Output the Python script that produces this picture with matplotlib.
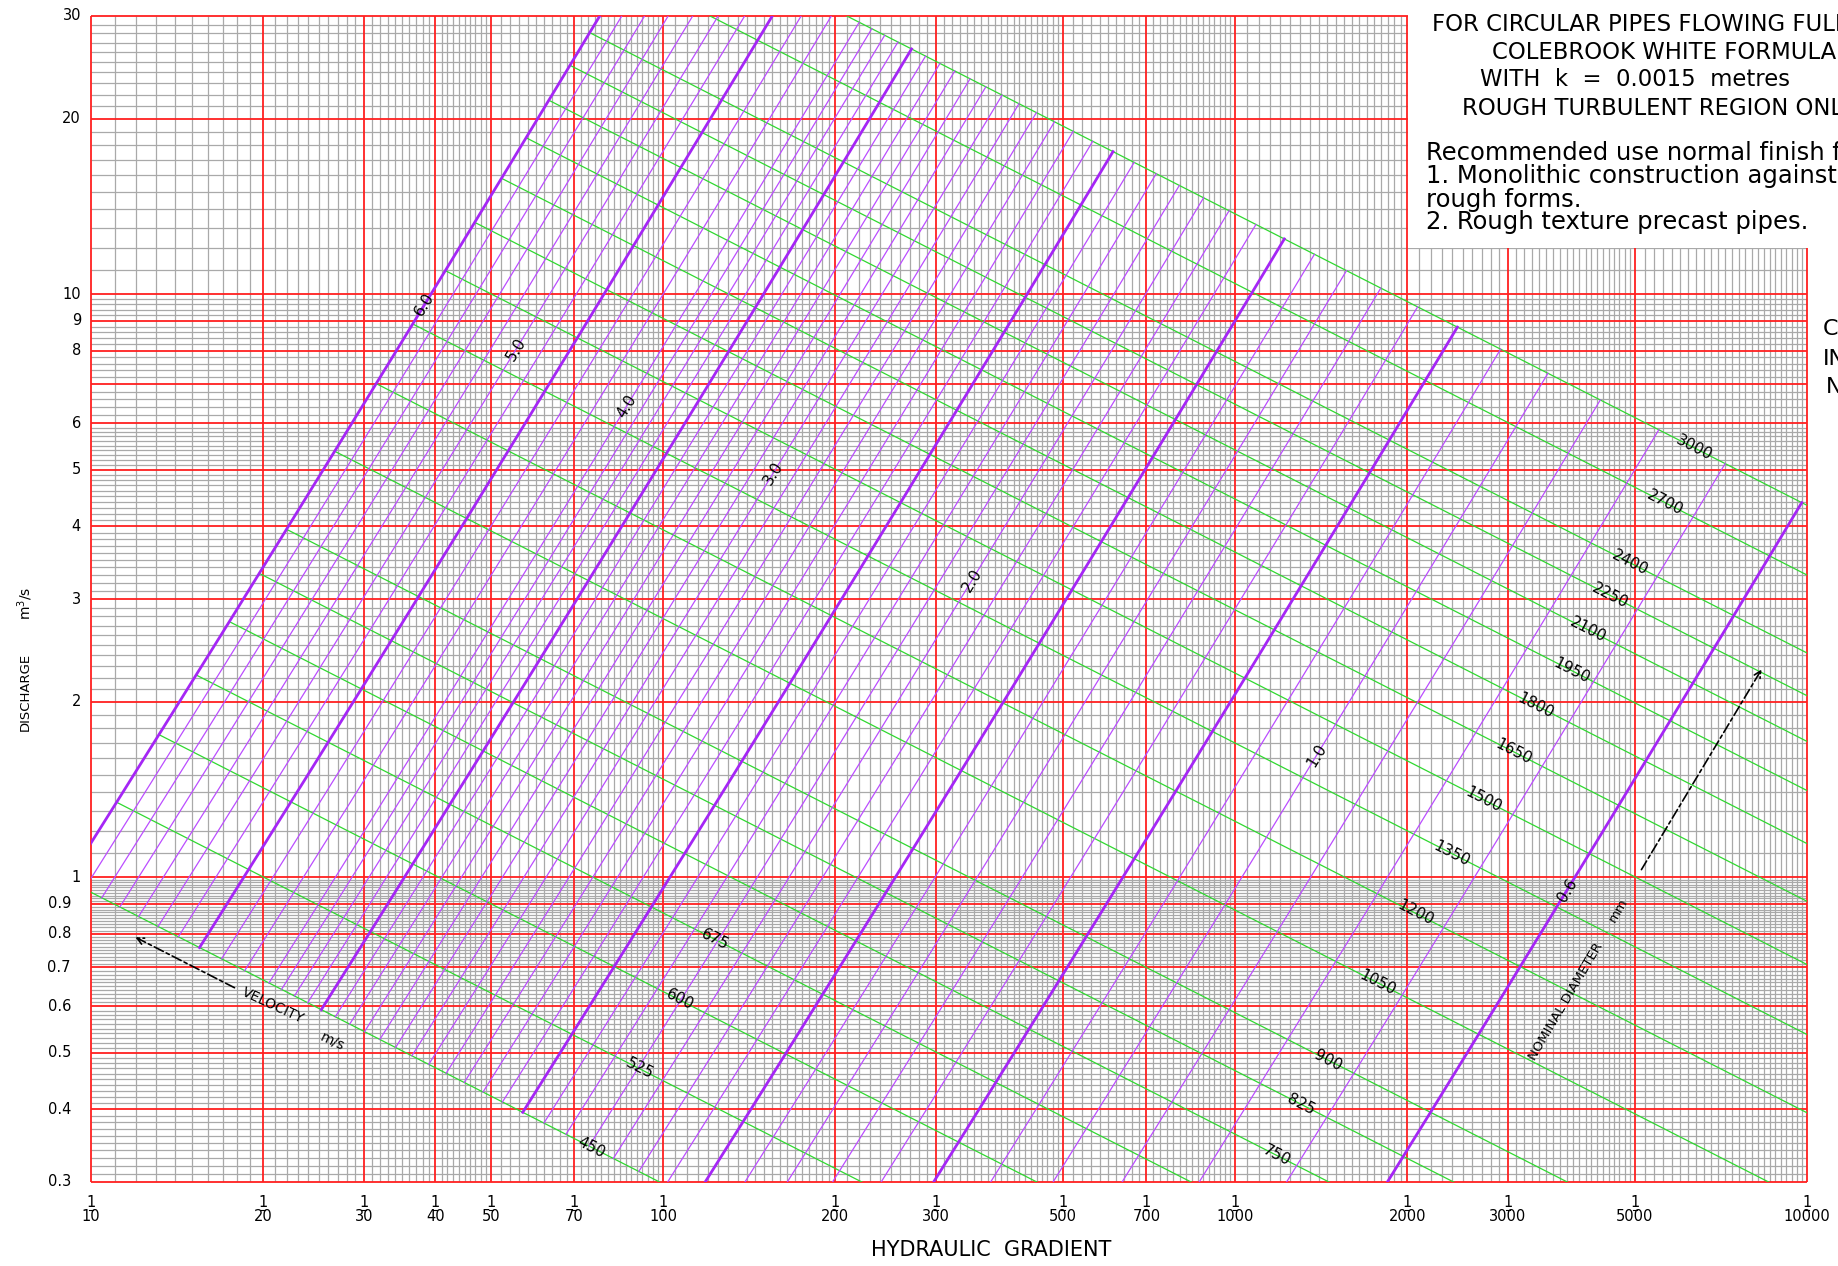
import numpy as np
import matplotlib.pyplot as plt
from matplotlib.patches import Rectangle

W, H = 1838, 1266

# Colebrook-White, rough turbulent region only
k = 0.0015      # roughness, metres
g = 9.81
q_scale = 1.035  # the printed chart sits a little above the plain formula

diameters_mm = [450, 525, 600, 675, 750, 825, 900, 1050, 1200, 1350, 1500,
                1650, 1800, 1950, 2100, 2250, 2400, 2700, 3000]
velocities = [0.6, 0.7, 0.8, 0.9, 1.0, 1.1, 1.2, 1.3, 1.4, 1.5, 1.6, 1.7, 1.8, 1.9,
              2.0, 2.1, 2.2, 2.3, 2.4, 2.5, 2.6, 2.7, 2.8, 2.9,
              3.0, 3.1, 3.2, 3.3, 3.4, 3.5, 3.6, 3.7, 3.8, 3.9,
              4.0, 4.2, 4.4, 4.6, 4.8, 5.0, 5.2, 5.4, 5.6, 5.8, 6.0]
bold_velocities = [0.6, 1.2, 1.7, 2.4, 3.6, 4.6, 6.0]

labelled_velocities = [6.0, 5.0, 4.0, 3.0, 2.0, 1.0, 0.6]
velocity_label_q = [9.6, 8.05, 6.43, 4.93, 3.23, 1.62, 0.95]
diameter_label_x = [75, 91, 107, 123, 1183, 1303, 1455, 1778, 2064, 2395, 2715,
                    3065, 3357, 3880, 4140, 4530, 4900, 5650, 6350]

gradient_ticks = [10, 20, 30, 40, 50, 70, 100, 200, 300, 500, 700, 1000,
                  2000, 3000, 5000, 10000]
discharge_ticks = [30, 20, 10, 9, 8, 6, 5, 4, 3, 2, 1, 0.9, 0.8, 0.7, 0.6, 0.5, 0.4, 0.3]
discharge_major = [0.3, 0.4, 0.5, 0.6, 0.7, 0.8, 0.9, 1, 2, 3, 4, 5, 6, 7, 8, 9, 10, 20, 30]


def flow_velocity(D, S):
    return 2 * np.sqrt(2 * g * D * S) * np.log10(3.7 * D / k)


def slope_for(D, V):
    return (V / (2 * np.log10(3.7 * D / k))) ** 2 / (2 * g * D)


def fxy(x, y):
    return x / W, 1 - y / H


fig = plt.figure(figsize=(W / 100, H / 100), dpi=100)
ax = fig.add_axes([91 / W, 1 - 1182 / H, 1716 / W, 1166 / H])
ax.set_xscale('log')
ax.set_yscale('log')
ax.set_xlim(10, 10000)
ax.set_ylim(0.3, 30)
ax.tick_params(which='both', length=0, labelbottom=False, labelleft=False)
for s in ax.spines.values():
    s.set_visible(False)

# graph paper
minor_x = np.concatenate([np.arange(11, 50, 1), np.arange(52, 100, 2),
                          np.arange(105, 200, 5), np.arange(210, 500, 10),
                          np.arange(520, 1000, 20), np.arange(1050, 2000, 50),
                          np.arange(2100, 5000, 100), np.arange(5200, 10000, 200)])
minor_x = [v for v in minor_x if v not in gradient_ticks]
minor_y = np.concatenate([np.arange(0.31, 1.0, 0.01), np.arange(1.1, 6.0, 0.1),
                          np.arange(6.2, 10.0, 0.2), np.arange(11, 30, 1)])
minor_y = [v for v in minor_y if not np.any(np.isclose(v, discharge_major))]

ax.vlines(minor_x, 0.3, 30, colors='#a9a9a9', lw=0.9, zorder=1)
ax.hlines(minor_y, 10, 10000, colors='#a9a9a9', lw=0.9, zorder=1)
ax.vlines(gradient_ticks, 0.3, 30, colors='#ff2020', lw=1.3, zorder=1.2, clip_on=False)
ax.hlines(discharge_major, 10, 10000, colors='#ff2020', lw=1.3, zorder=1.2, clip_on=False)

# blank area for the title block
ax.add_patch(Rectangle((2000 * 1.004, 12), 30000, 40, facecolor='white',
                       edgecolor='none', zorder=2, clip_on=False))

# velocity lines
Dr = np.geomspace(0.45, 3.0, 400)
for v in velocities:
    xs = 1 / slope_for(Dr, v)
    qs = q_scale * v * np.pi * Dr ** 2 / 4
    if v in bold_velocities:
        ax.plot(xs, qs, color='#a526f5', lw=2.0, zorder=3.2)
    else:
        ax.plot(xs, qs, color='#bb4dff', lw=0.9, zorder=3.2)

# diameter lines
for d in diameters_mm:
    D = d / 1000
    x0 = max(10, 1 / slope_for(D, 6.0))
    xs = np.geomspace(x0, 10000, 60)
    qs = q_scale * flow_velocity(D, 1 / xs) * np.pi * D ** 2 / 4
    ax.plot(xs, qs, color='#30d830', lw=0.9, zorder=3)


def angle_of(p, q):
    a = ax.transData.transform(p)
    b = ax.transData.transform(q)
    return np.degrees(np.arctan2(b[1] - a[1], b[0] - a[0]))


for d, xl in zip(diameters_mm, diameter_label_x):
    D = d / 1000
    A = q_scale * np.pi * D ** 2 / 4
    q1 = flow_velocity(D, 1 / xl) * A
    q2 = flow_velocity(D, 1 / (xl * 1.1)) * A
    ang = angle_of((xl, q1), (xl * 1.1, q2))
    ax.text(xl, q1, str(d), rotation=ang, rotation_mode='anchor', ha='center',
            va='center', fontsize=11, zorder=5)

for v, ql in zip(labelled_velocities, velocity_label_q):
    D = np.sqrt(4 * ql / q_scale / (np.pi * v))
    x1 = 1 / slope_for(D, v)
    x2 = 1 / slope_for(D * 1.02, v)
    q2 = q_scale * v * np.pi * (D * 1.02) ** 2 / 4
    ang = angle_of((x1, ql), (x2, q2))
    ax.text(x1, ql, '%.1f' % v, rotation=ang, rotation_mode='anchor', ha='center',
            va='center', fontsize=11, zorder=5)

# axis tick labels
xt = ax.get_xaxis_transform()
for xv in gradient_ticks:
    ax.text(xv, -0.0172, '1', transform=xt, ha='center', va='center', fontsize=10.5)
    ax.text(xv, -0.0300, str(xv), transform=xt, ha='center', va='center', fontsize=10.5)
    ax.plot([xv / 1.008, xv * 1.008], [-0.0236, -0.0236], transform=xt, color='black',
            lw=0.8, clip_on=False)

yt = ax.get_yaxis_transform()
for yv in discharge_ticks:
    if yv >= 1:
        ax.text(-0.0058, yv, '%d' % yv, transform=yt, ha='right', va='center', fontsize=10.5)
    else:
        ax.text(-0.0117, yv, '%.1f' % yv, transform=yt, ha='right', va='center', fontsize=10.5)

fig.text(*fxy(991, 1250), 'HYDRAULIC  GRADIENT', ha='center', va='center', fontsize=15)
fig.text(*fxy(25, 692), 'DISCHARGE', rotation=90, ha='center', va='center', fontsize=9.5)
fig.text(*fxy(25, 603), 'm$^{3}$/s', rotation=90, ha='center', va='center', fontsize=10)

# arrows and axis notes
ax.annotate('', xy=fxy(133, 936), xytext=fxy(237, 989), xycoords='figure fraction',
            textcoords='figure fraction',
            arrowprops=dict(arrowstyle='->', color='black', lw=1.2, linestyle=(0, (6, 2, 2, 2)),
                            mutation_scale=12))
fig.text(*fxy(273, 1006), 'VELOCITY', rotation=-25, ha='center', va='center', fontsize=10)
fig.text(*fxy(333, 1041), 'm/s', rotation=-25, ha='center', va='center', fontsize=10)

ax.annotate('', xy=fxy(1763, 667), xytext=fxy(1640, 872), xycoords='figure fraction',
            textcoords='figure fraction',
            arrowprops=dict(arrowstyle='->', color='black', lw=1.2, linestyle=(0, (6, 2, 2, 2)),
                            mutation_scale=12))
fig.text(*fxy(1566, 1002), 'NOMINAL DIAMETER', rotation=59.5, ha='center', va='center',
         fontsize=9.5)
fig.text(*fxy(1618, 910), 'mm', rotation=59.5, ha='center', va='center', fontsize=9.5)

# title block (runs off the right edge, as in the source sheet)
for s, x, y, fs in [('FOR CIRCULAR PIPES FLOWING FULL', 1432, 22, 16.4),
                    ('COLEBROOK WHITE FORMULA', 1492, 50, 16.4),
                    ('WITH  k  =  0.0015  metres', 1480, 77, 16.4),
                    ('ROUGH TURBULENT REGION ONLY', 1462, 106, 16.4),
                    ('Recommended use normal finish for:', 1426, 150, 17.5),
                    ('1. Monolithic construction against', 1426, 173, 17.5),
                    ('rough forms.', 1426, 197, 17.5),
                    ('2. Rough texture precast pipes.', 1426, 220, 17.5),
                    ('C', 1823, 327, 16), ('IN', 1823, 357, 16), ('N', 1826, 385, 16)]:
    fig.text(*fxy(x, y), s, ha='left', va='center_baseline', fontsize=fs)

fig.savefig('out.png', dpi=100)
